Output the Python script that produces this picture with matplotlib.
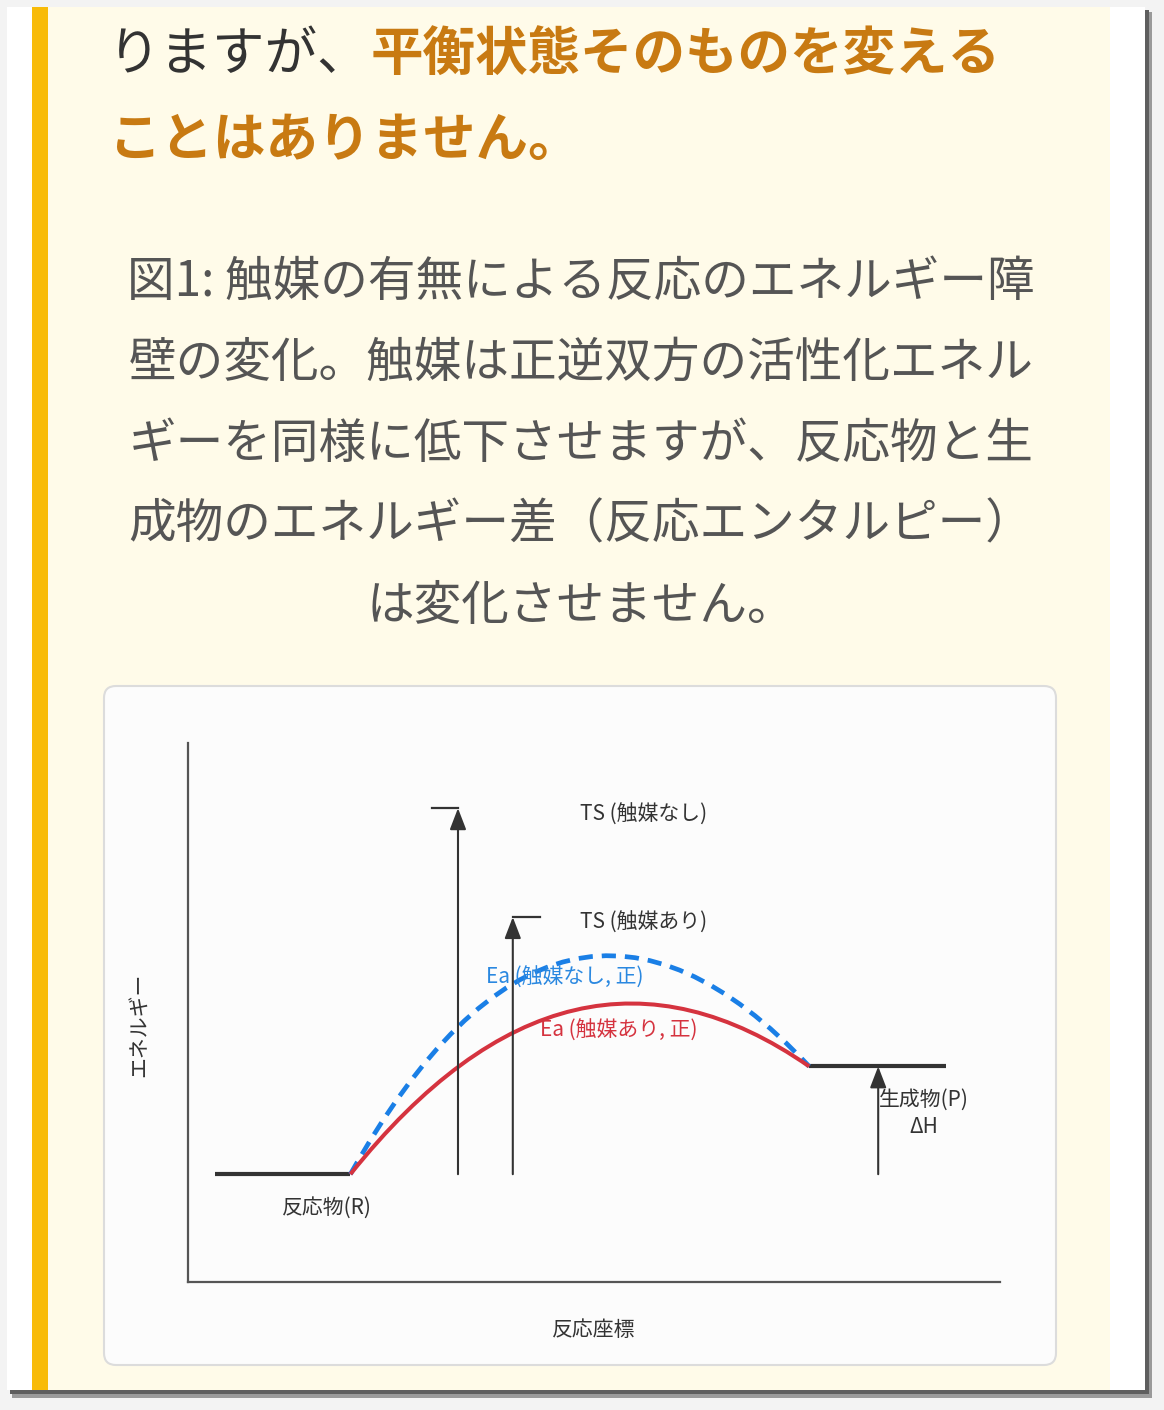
import matplotlib
matplotlib.use('Agg')
import matplotlib.pyplot as plt
from matplotlib.patches import Rectangle, FancyBboxPatch, PathPatch
from matplotlib.path import Path

plt.rcParams['font.family'] = ['Noto Sans CJK JP', 'DejaVu Sans']

# ---- data (x = reaction coordinate, y = energy, 0..100) ----
reactant_x = [3.3, 20.0]
reactant_y = [20.0, 20.0]
product_x = [76.5, 93.3]
product_y = [40.0, 40.0]

# quadratic curves: start, control, end
uncat_x = [20.0, 45.8, 76.5]
uncat_y = [20.0, 89.4, 40.0]
cat_x = [20.0, 47.0, 76.5]
cat_y = [20.0, 70.9, 40.0]

ts_uncat = 87.9
ts_cat = 67.7
arrow_x = [33.25, 40.0, 85.0]
arrow_top = [ts_uncat, ts_cat, 40.0]
tick_x = [(30.05, 33.25), (40.0, 43.35)]

caption_lines = [
    "図1: 触媒の有無による反応のエネルギー障",
    "壁の変化。触媒は正逆双方の活性化エネル",
    "ギーを同様に低下させますが、反応物と生",
    "成物のエネルギー差（反応エンタルピー）",
    "は変化させません。",
]

W, H = 1164, 1410
fig = plt.figure(figsize=(W / 100, H / 100), dpi=100)
fig.patch.set_facecolor('#f3f3f3')

# page background in pixel coords
bg = fig.add_axes([0, 0, 1, 1])
bg.set_xlim(0, W)
bg.set_ylim(H, 0)
bg.axis('off')
bg.add_patch(Rectangle((12, 12), 1140, 1386, color='#9a9a9a', lw=0))
bg.add_patch(Rectangle((10, 10), 1139, 1384, color='#5e5e5e', lw=0))
bg.add_patch(Rectangle((7, 7), 1138, 1383, color='white', lw=0))
bg.add_patch(Rectangle((48, 7), 1062, 1383, color='#fffbe9', lw=0))
bg.add_patch(Rectangle((32, 7), 16, 1383, color='#f8bb08', lw=0))
bg.add_patch(FancyBboxPatch((104, 686), 952, 679, boxstyle='round,pad=0,rounding_size=12',
                            facecolor='#fcfcfc', edgecolor='#dcdcdc', lw=1.5))

# intro text
em = 52.5
fs_big = em * 0.72
bg.text(108, 55, "りますが、", fontsize=fs_big, color='#333333', va='center', ha='left')
bg.text(108 + 5 * em, 55, "平衡状態そのものを変える", fontsize=fs_big, color='#c87a12',
        fontweight='bold', va='center', ha='left')
bg.text(108, 141, "ことはありません。", fontsize=fs_big, color='#c87a12',
        fontweight='bold', va='center', ha='left')

# caption
for i, line in enumerate(caption_lines):
    bg.text(581, 282 + i * 81, line, fontsize=34.3, color='#555555', va='center', ha='center')

# ---- chart ----
ax = fig.add_axes([188 / W, (H - 1282) / H, 812 / W, 539 / H])
ax.set_xlim(0, 100)
ax.set_ylim(0, 100)
ax.patch.set_alpha(0)
for s in ['top', 'right']:
    ax.spines[s].set_visible(False)
for s in ['left', 'bottom']:
    ax.spines[s].set_color('#555555')
    ax.spines[s].set_linewidth(1.6)
ax.set_xticks([])
ax.set_yticks([])

dark = '#333333'
ax.plot(reactant_x, reactant_y, color=dark, lw=3, solid_capstyle='butt', zorder=3)
ax.plot(product_x, product_y, color=dark, lw=3, solid_capstyle='butt', zorder=3)

codes = [Path.MOVETO, Path.CURVE3, Path.CURVE3]
ax.add_patch(PathPatch(Path(list(zip(uncat_x, uncat_y)), codes), fill=False,
                       edgecolor='#1a7fe6', lw=3.4, linestyle=(0, (3.0, 1.9)), zorder=4))
ax.add_patch(PathPatch(Path(list(zip(cat_x, cat_y)), codes), fill=False,
                       edgecolor='#d5333f', lw=2.9, zorder=5))

for x, top in zip(arrow_x, arrow_top):
    ax.annotate('', xy=(x, top), xytext=(x, reactant_y[0]),
                arrowprops=dict(arrowstyle='-|>,head_length=0.65,head_width=0.25',
                                mutation_scale=20, lw=1.5, color=dark,
                                shrinkA=0, shrinkB=0), zorder=6)
for (x0, x1), lvl in zip(tick_x, [ts_uncat, ts_cat]):
    ax.plot([x0, x1], [lvl, lvl], color=dark, lw=1.6, zorder=6)

fs = 15
ax.text(48.3, 86.6, "TS (触媒なし)", fontsize=fs, color=dark, va='center', ha='left')
ax.text(48.3, 66.6, "TS (触媒あり)", fontsize=fs, color=dark, va='center', ha='left')
ax.text(36.7, 56.4, "Ea (触媒なし, 正)", fontsize=fs, color='#2a88e0', va='center', ha='left', zorder=7)
ax.text(43.35, 46.6, "Ea (触媒あり, 正)", fontsize=fs, color='#d5333f', va='center', ha='left', zorder=7)
ax.text(90.6, 33.8, "生成物(P)", fontsize=fs, color=dark, va='center', ha='center')
ax.text(90.6, 28.8, "ΔH", fontsize=fs, color=dark, va='center', ha='center')
ax.text(17.1, 13.7, "反応物(R)", fontsize=fs, color=dark, va='center', ha='center')
ax.text(50.0, -8.9, "反応座標", fontsize=fs, color=dark, va='center', ha='center', clip_on=False)
ax.text(-5.9, 47.7, "エネルギー", fontsize=fs, color=dark, va='center', ha='center',
        rotation=90, clip_on=False)

fig.savefig('out.png', dpi=100)
